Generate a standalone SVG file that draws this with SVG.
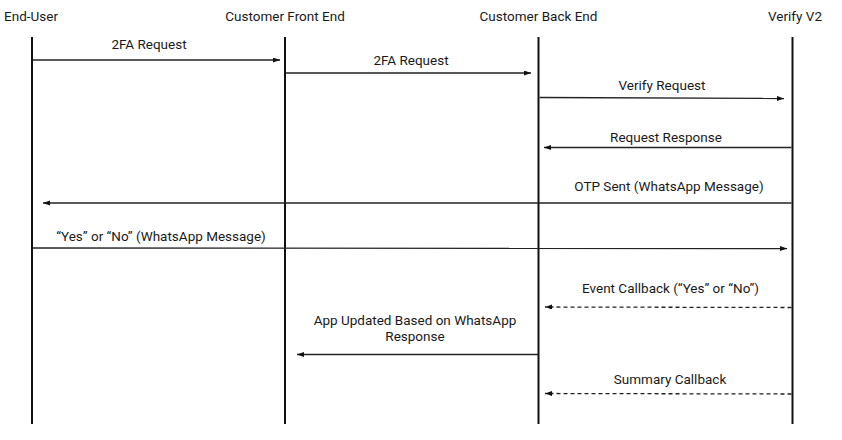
<svg xmlns="http://www.w3.org/2000/svg" width="842" height="440" viewBox="0 0 842 440">
<style>
  text { font-family: Roboto, "Liberation Sans", sans-serif; font-size: 13.5px; fill: #1a1a1a; text-anchor: middle; }
  .life { stroke: #111; stroke-width: 2; fill: none; }
  .msg { stroke: #222; stroke-width: 1.3; fill: none; marker-end: url(#ah); }
  .dash { stroke-dasharray: 4 3; }
</style>
<defs>
  <marker id="ah" markerUnits="userSpaceOnUse" markerWidth="8" markerHeight="6" refX="7" refY="2.5" orient="auto">
    <path d="M0,0 L7,2.5 L0,5 z" fill="#111"/>
  </marker>
</defs>
<rect width="842" height="440" fill="#fff"/>
<g id="end-user">
  <text x="31" y="21">End-User</text>
  <line class="life" x1="32" y1="37" x2="32" y2="424"/>
</g>
<g id="customer-front-end">
  <text x="285" y="21">Customer Front End</text>
  <line class="life" x1="285" y1="37" x2="285" y2="424"/>
</g>
<g id="customer-back-end">
  <text x="538.5" y="21">Customer Back End</text>
  <line class="life" x1="538.5" y1="37" x2="538.5" y2="424"/>
</g>
<g id="verify-v2">
  <text x="795" y="21">Verify V2</text>
  <line class="life" x1="792.5" y1="37" x2="792.5" y2="424"/>
</g>
<g id="connectors">
  <line class="msg" x1="33" y1="60" x2="280" y2="60"/>
  <text x="149" y="49">2FA Request</text>

  <line class="msg" x1="286" y1="73" x2="531" y2="73"/>
  <text x="411" y="65">2FA Request</text>

  <line class="msg" x1="539.5" y1="97.5" x2="784" y2="98.5"/>
  <text x="662" y="90">Verify Request</text>

  <line class="msg" x1="791.5" y1="147.5" x2="544" y2="147.5"/>
  <text x="666" y="142">Request Response</text>

  <line class="msg" x1="791.5" y1="203" x2="43" y2="203"/>
  <text x="669" y="191">OTP Sent (WhatsApp Message)</text>

  <line class="msg" x1="33" y1="248" x2="787" y2="248.5"/>
  <text x="161" y="241">“Yes” or “No” (WhatsApp Message)</text>

  <line class="msg dash" x1="791.5" y1="307.5" x2="545" y2="307"/>
  <text x="670.5" y="293">Event Callback (“Yes” or “No”)</text>

  <line class="msg" x1="538" y1="354.5" x2="297" y2="354.5"/>
  <text x="415" y="325">App Updated Based on WhatsApp</text>
  <text x="415" y="341">Response</text>

  <line class="msg dash" x1="791.5" y1="394" x2="545" y2="393.5"/>
  <text x="670" y="384">Summary Callback</text>
</g>
</svg>
